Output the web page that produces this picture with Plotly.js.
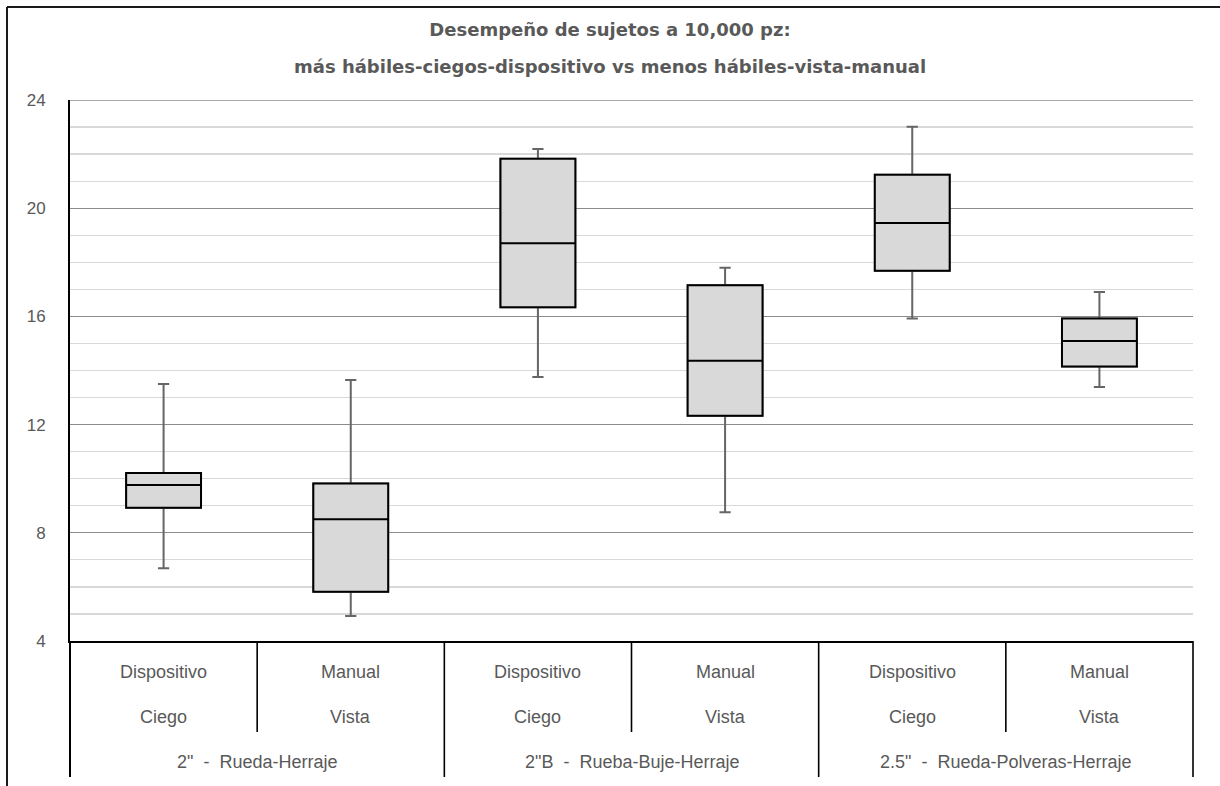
<!DOCTYPE html>
<html>
<head>
<meta charset="utf-8">
<script src="https://cdn.plot.ly/plotly-3.0.1.min.js"></script>
<style>
  html, body { margin: 0; padding: 0; background: #ffffff; overflow: hidden; }
  #chart { width: 1220px; height: 786px; }
</style>
</head>
<body>
<div id="chart"></div>
<script>
// ---- Data ----
const categories = ['2" Dispositivo Ciego', '2" Manual Vista', '2"B Dispositivo Ciego', '2"B Manual Vista', '2.5" Dispositivo Ciego', '2.5" Manual Vista'];
const methodLabels = ['Dispositivo', 'Manual', 'Dispositivo', 'Manual', 'Dispositivo', 'Manual'];
const conditionLabels = ['Ciego', 'Vista', 'Ciego', 'Vista', 'Ciego', 'Vista'];
const groupLabels = ['2"  -  Rueda-Herraje', '2"B  -  Rueba-Buje-Herraje', '2.5"  -  Rueda-Polveras-Herraje'];
const lowerWhisker = [6.69, 4.92, 13.76, 8.76, 15.92, 13.39];
const q1Values     = [8.93, 5.82, 16.34, 12.33, 17.69, 14.15];
const medianValues = [9.77, 8.50, 18.70, 14.36, 19.45, 15.09];
const q3Values     = [10.21, 9.82, 21.83, 17.15, 21.24, 15.92];
const upperWhisker = [13.50, 13.65, 22.19, 17.80, 23.01, 16.90];
const yTicks = [4, 8, 12, 16, 20, 24];
const titleLine1 = 'Desempeño de sujetos a 10,000 pz:';
const titleLine2 = 'más hábiles-ciegos-dispositivo vs menos hábiles-vista-manual';

// ---- Geometry helpers (pixel layout of the frame) ----
const W = 1220, H = 786;
const M = {l: 70, r: 27, t: 100, b: 145};
const plotH = H - M.t - M.b;
const plotW = W - M.l - M.r;
const py = px => (H - M.b - px) / plotH;   // pixel y -> paper y
const pxx = px => (px - M.l) / plotW;      // pixel x -> paper x

const labelFont = {family: '"Liberation Sans", Arial, sans-serif', size: 18, color: '#595959'};
const titleFont = {family: '"DejaVu Sans", "Liberation Sans", Arial, sans-serif', size: 18, color: '#595959', weight: 'bold'};

const whiskerTrace = {
  type: 'box',
  x: categories,
  q1: q1Values, median: medianValues, q3: q3Values,
  lowerfence: lowerWhisker, upperfence: upperWhisker,
  boxpoints: false,
  fillcolor: '#d9d9d9',
  line: {color: '#666666', width: 2},
  whiskerwidth: 0.15,
  hoverinfo: 'skip',
  showlegend: false
};
const bodyTrace = {
  type: 'box',
  x: categories,
  q1: q1Values, median: medianValues, q3: q3Values,
  lowerfence: q1Values, upperfence: q3Values,
  boxpoints: false,
  fillcolor: '#d9d9d9',
  line: {color: '#000000', width: 2},
  whiskerwidth: 0,
  hoverinfo: 'skip',
  showlegend: false
};

const shapes = [];
const lineBlack = {color: '#000000', width: 1.6};
// top major gridline at the range edge
shapes.push({type: 'line', xref: 'paper', yref: 'y', x0: 0, x1: 1, y0: yTicks[yTicks.length - 1], y1: yTicks[yTicks.length - 1], line: {color: '#8c8c8c', width: 1.3}, layer: 'below'});
// left axis extension & right edge of the category table
shapes.push({type: 'line', xref: 'paper', yref: 'paper', x0: 0, x1: 0, y0: 0, y1: py(777), line: {color: '#000000', width: 2}});
shapes.push({type: 'line', xref: 'paper', yref: 'paper', x0: 1, x1: 1, y0: 0, y1: py(777), line: lineBlack});
// dividers between categories
for (let i = 0; i < categories.length - 1; i++) {
  const isGroupEdge = (i % 2 === 1);
  shapes.push({type: 'line', xref: 'x', yref: 'paper', x0: i + 0.5, x1: i + 0.5,
    y0: 0, y1: isGroupEdge ? py(777) : py(732), line: lineBlack});
}
// chart outer frame (top & left edges visible)
shapes.push({type: 'line', xref: 'paper', yref: 'paper', x0: pxx(7), x1: pxx(1225), y0: py(7), y1: py(7), line: {color: '#1a1a1a', width: 2}});
shapes.push({type: 'line', xref: 'paper', yref: 'paper', x0: pxx(7), x1: pxx(7), y0: py(7), y1: py(795), line: {color: '#1a1a1a', width: 2}});

const annotations = [];
categories.forEach((c, i) => {
  annotations.push({xref: 'x', yref: 'paper', x: i, y: py(672), text: methodLabels[i], showarrow: false, font: labelFont, xanchor: 'center', yanchor: 'middle'});
  annotations.push({xref: 'x', yref: 'paper', x: i, y: py(717), text: conditionLabels[i], showarrow: false, font: labelFont, xanchor: 'center', yanchor: 'middle'});
});
groupLabels.forEach((g, k) => {
  annotations.push({xref: 'x', yref: 'paper', x: 2 * k + 0.5, y: py(762), text: g, showarrow: false, font: labelFont, xanchor: 'center', yanchor: 'middle'});
});
annotations.push({xref: 'paper', yref: 'paper', x: pxx(610), y: py(66), text: titleLine2, showarrow: false, font: titleFont, xanchor: 'center', yanchor: 'middle'});

const layout = {
  width: W, height: H,
  margin: {l: M.l, r: M.r, t: M.t, b: M.b, pad: 0},
  paper_bgcolor: '#ffffff', plot_bgcolor: '#ffffff',
  title: {text: titleLine1, font: titleFont, xref: 'paper', x: pxx(610), xanchor: 'center', yref: 'container', y: 1 - 30 / H, yanchor: 'middle'},
  boxmode: 'overlay',
  boxgap: 0.6,
  boxgroupgap: 0,
  showlegend: false,
  xaxis: {type: 'category', categoryorder: 'array', categoryarray: categories, range: [-0.5, categories.length - 0.5],
    showticklabels: false, showgrid: false, zeroline: false, ticks: '',
    showline: true, linecolor: '#000000', linewidth: 1.6, fixedrange: true},
  yaxis: {range: [4, 24], tickvals: yTicks, ticktext: yTicks.map(String),
    showgrid: true, gridcolor: '#8c8c8c', gridwidth: 1.3,
    minor: {dtick: 1, tick0: 4, showgrid: true, gridcolor: '#d9d9d9', gridwidth: 1.3, ticks: ''},
    zeroline: false, showline: true, linecolor: '#000000', linewidth: 2,
    ticks: 'outside', ticklen: 19, tickcolor: 'rgba(0,0,0,0)',
    tickfont: {family: '"Liberation Sans", Arial, sans-serif', size: 17, color: '#595959'},
    fixedrange: true},
  shapes: shapes,
  annotations: annotations
};

Plotly.newPlot('chart', [whiskerTrace, bodyTrace], layout, {displayModeBar: false, staticPlot: true});
</script>
</body>
</html>
